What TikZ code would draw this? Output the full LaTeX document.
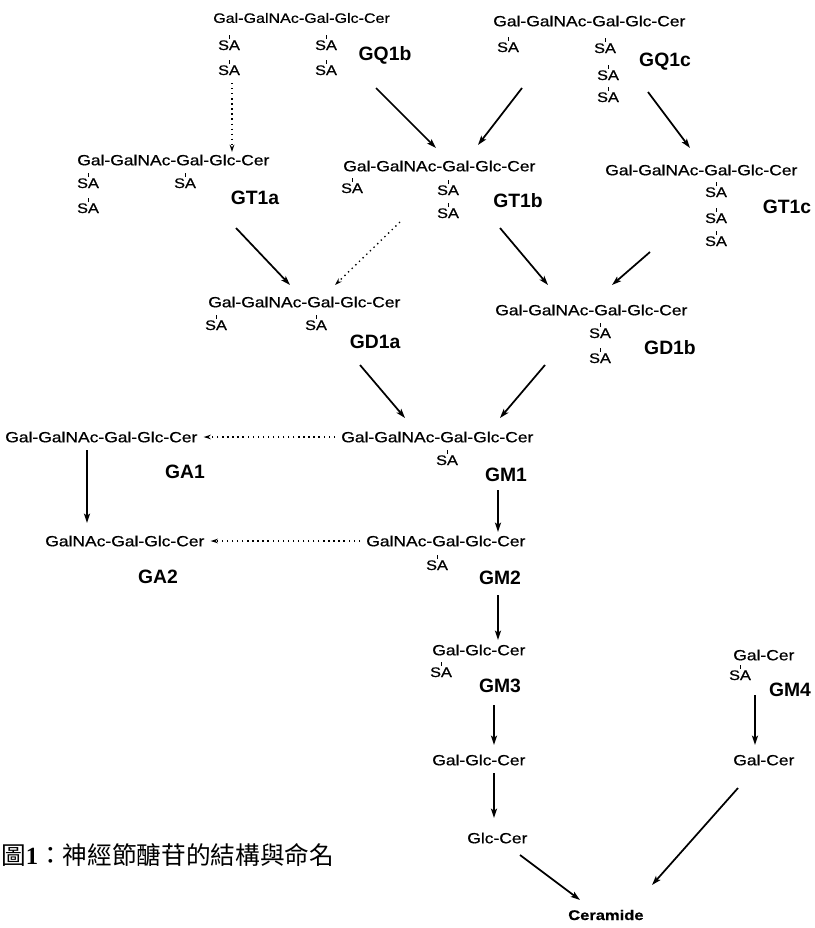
\documentclass[tikz,border=0pt]{standalone}
\usepackage{fontspec}
\usetikzlibrary{arrows.meta,calc}
\newfontfamily\chainfont[FakeStretch=1.18,FakeBold=0.6]{Liberation Sans}
\newfontfamily\labelfont{Liberation Sans}
\newfontfamily\cjkfont{Noto Sans CJK TC}
\newfontfamily\numfont{Liberation Serif}
\newcommand{\satick}{S\makebox[0pt]{\rule[0.78em]{0.5pt}{0.3em}}A}
\tikzset{
  chain/.style={anchor=west,inner sep=0pt,font=\chainfont\fontsize{11.1pt}{13pt}\selectfont},
  chainsm/.style={chain,font=\chainfont\fontsize{10.2pt}{12pt}\selectfont},
  sa/.style={anchor=base,inner sep=0pt,font=\chainfont\fontsize{10.4pt}{12pt}\selectfont},
  glab/.style={inner sep=0pt,font=\labelfont\bfseries\fontsize{14.5pt}{17pt}\selectfont},
  arr/.style={line width=1.3pt,-{Stealth[length=7pt,width=4.5pt,inset=1.5pt]}},
  dotarr/.style={line width=1pt,dash pattern=on 1pt off 2.8pt,-{Stealth[length=5.5pt,width=3.5pt]}}
}
\begin{document}
\begin{tikzpicture}[x=0.75pt,y=-0.75pt]
  \useasboundingbox (0,0) rectangle (814,928);
  % tetrasialo
  \node[chainsm] (gq1b) at (213,18) {Gal-GalNAc-Gal-Glc-Cer};
  \node[sa] (gq1b-sa1) at (229,50) {\satick};
  \node[sa] (gq1b-sa2) at (229,75) {\satick};
  \node[sa] (gq1b-sa3) at (326,50) {\satick};
  \node[sa] (gq1b-sa4) at (326,75) {\satick};
  \node[glab] (gq1b-l) at (385,55) {GQ1b};

  \node[chain] (gq1c) at (493,21) {Gal-GalNAc-Gal-Glc-Cer};
  \node[sa] (gq1c-sa1) at (508,52) {\satick};
  \node[sa] (gq1c-sa2) at (605,53) {\satick};
  \node[sa] (gq1c-sa3) at (608,80) {\satick};
  \node[sa] (gq1c-sa4) at (608,102) {\satick};
  \node[glab] (gq1c-l) at (665,62) {GQ1c};

  % trisialo
  \node[chain] (gt1a) at (77,160) {Gal-GalNAc-Gal-Glc-Cer};
  \node[sa] (gt1a-sa1) at (88,188) {\satick};
  \node[sa] (gt1a-sa2) at (88,213) {\satick};
  \node[sa] (gt1a-sa3) at (185,188) {\satick};
  \node[glab] (gt1a-l) at (255,198) {GT1a};

  \node[chain] (gt1b) at (343,166) {Gal-GalNAc-Gal-Glc-Cer};
  \node[sa] (gt1b-sa1) at (352,193) {\satick};
  \node[sa] (gt1b-sa2) at (448,195) {\satick};
  \node[sa] (gt1b-sa3) at (448,218) {\satick};
  \node[glab] (gt1b-l) at (518,201) {GT1b};

  \node[chain] (gt1c) at (605,170) {Gal-GalNAc-Gal-Glc-Cer};
  \node[sa] (gt1c-sa1) at (716,197) {\satick};
  \node[sa] (gt1c-sa2) at (716,223) {\satick};
  \node[sa] (gt1c-sa3) at (716,246) {\satick};
  \node[glab] (gt1c-l) at (787,207) {GT1c};

  % disialo
  \node[chain] (gd1a) at (208,302) {Gal-GalNAc-Gal-Glc-Cer};
  \node[sa] (gd1a-sa1) at (216,330) {\satick};
  \node[sa] (gd1a-sa2) at (316,330) {\satick};
  \node[glab] (gd1a-l) at (375,342) {GD1a};

  \node[chain] (gd1b) at (495,310) {Gal-GalNAc-Gal-Glc-Cer};
  \node[sa] (gd1b-sa1) at (600,338) {\satick};
  \node[sa] (gd1b-sa2) at (600,363) {\satick};
  \node[glab] (gd1b-l) at (670,348) {GD1b};

  % monosialo and asialo
  \node[chain] (gm1) at (341,437) {Gal-GalNAc-Gal-Glc-Cer};
  \node[sa] (gm1-sa) at (447,465) {\satick};
  \node[glab] (gm1-l) at (506,475) {GM1};

  \node[chain] (ga1) at (5,437) {Gal-GalNAc-Gal-Glc-Cer};
  \node[glab] (ga1-l) at (185,472) {GA1};

  \node[chain] (ga2) at (45,541) {GalNAc-Gal-Glc-Cer};
  \node[glab] (ga2-l) at (158,577) {GA2};

  \node[chain] (gm2) at (366,541) {GalNAc-Gal-Glc-Cer};
  \node[sa] (gm2-sa) at (437,570) {\satick};
  \node[glab] (gm2-l) at (500,578) {GM2};

  \node[chain] (gm3) at (432,650) {Gal-Glc-Cer};
  \node[sa] (gm3-sa) at (441,677) {\satick};
  \node[glab] (gm3-l) at (500,686) {GM3};

  \node[chain] (lac) at (432,760) {Gal-Glc-Cer};
  \node[chain] (glc) at (467,838) {Glc-Cer};
  \node[chain,font=\chainfont\bfseries\fontsize{10.5pt}{12pt}\selectfont] (cer) at (568,915) {Ceramide};

  \node[chain] (gm4) at (733,655) {Gal-Cer};
  \node[sa] (gm4-sa) at (740,680) {\satick};
  \node[glab] (gm4-l) at (790,690) {GM4};
  \node[chain] (galcer) at (733,760) {Gal-Cer};

  \node[anchor=west,inner sep=0pt,font=\cjkfont\fontsize{18.5pt}{22pt}\selectfont] (cap) at (1,855)
    {圖{\numfont\bfseries 1}：神經節醣苷的結構與命名};

  % connectors
  \draw[dotarr] ($(gq1b-sa2.base)+(3,8)$) -- ($(gt1a.west)+(155,-8)$);
  \draw[arr] ($(gq1b-l)+(-9,33)$) -- ($(gt1b.west)+(93,-18)$);
  \draw[arr] ($(gq1c-sa1.base)+(14,36)$) -- ($(gt1b.west)+(135,-21)$);
  \draw[arr] ($(gq1c-l)+(-17,30)$) -- ($(gt1c.west)+(85,-22)$);
  \draw[arr] ($(gt1a-l)+(-19,30)$) -- ($(gd1a.west)+(82,-17)$);
  \draw[dotarr] ($(gt1b.west)+(57,56)$) -- ($(gd1a.west)+(127,-17)$);
  \draw[arr] ($(gt1b-l)+(-18,27)$) -- ($(gd1b.west)+(53,-25)$);
  \draw[arr] ($(gt1c.west)+(45,82)$) -- ($(gd1b.west)+(117,-25)$);
  \draw[arr] ($(gd1a-l)+(-15,23)$) -- ($(gm1.west)+(64,-19)$);
  \draw[arr] ($(gd1b.west)+(50,55)$) -- ($(gm1.west)+(159,-19)$);
  \draw[dotarr] ($(gm1.west)+(-6,0)$) -- ($(ga1.east)+(6,0)$);
  \draw[arr] ($(ga1.west)+(82,13)$) -- ($(ga2.west)+(42,-18)$);
  \draw[arr] ($(gm1-l)+(-8,15)$) -- ($(gm2.west)+(132,-9)$);
  \draw[dotarr] ($(gm2.west)+(-6,0)$) -- ($(ga2.east)+(6,0)$);
  \draw[arr] ($(gm2-l)+(-2,17)$) -- ($(gm3.west)+(66,-10)$);
  \draw[arr] ($(gm3-l)+(-6,19)$) -- ($(lac.west)+(62,-15)$);
  \draw[arr] ($(lac.west)+(62,13)$) -- ($(glc.west)+(27,-20)$);
  \draw[arr] ($(glc.west)+(53,17)$) -- ($(cer.west)+(12,-15)$);
  \draw[arr] ($(gm4.west)+(22,40)$) -- ($(galcer.west)+(22,-15)$);
  \draw[arr] ($(galcer.west)+(5,28)$) -- ($(cer.west)+(84,-30)$);
\end{tikzpicture}
\end{document}
